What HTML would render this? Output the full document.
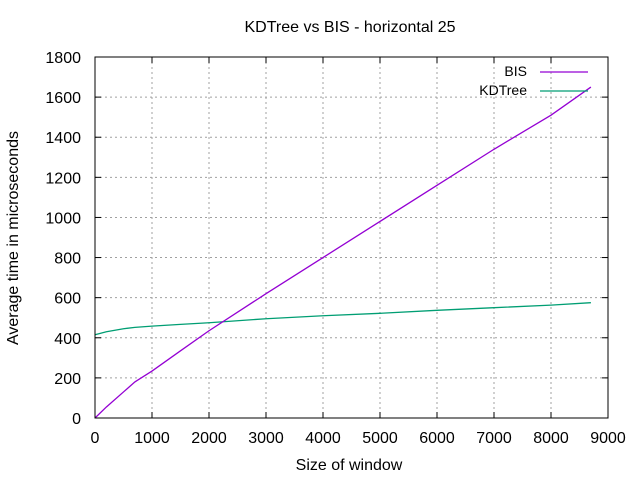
<!DOCTYPE html>
<html><head><meta charset="utf-8"><style>
body{margin:0;background:#fff}
svg{display:block;font-family:"Liberation Sans",sans-serif}
</style></head><body>
<svg id="chart" width="640" height="480">
<text x="350" y="32" font-size="16" text-anchor="middle">KDTree vs BIS - horizontal 25</text>
<g id="grid"></g>
<g id="ticks"></g>
<g id="series"></g>
<rect x="95" y="57" width="513" height="361" fill="none" stroke="#000" stroke-width="1"/>
<text x="349" y="470" font-size="16" text-anchor="middle">Size of window</text>
<text transform="translate(18,238) rotate(-90)" font-size="16" text-anchor="middle">Average time in microseconds</text>
<g>
<text x="527" y="76" font-size="14" text-anchor="end">BIS</text>
<line x1="540" y1="72" x2="588" y2="72" stroke="#9400d3" stroke-width="1.3"/>
<text x="527" y="95" font-size="14" text-anchor="end">KDTree</text>
<line x1="540" y1="91" x2="588" y2="91" stroke="#009e73" stroke-width="1.3"/>
</g>
</svg>
<script>
const xTicks=[0,1000,2000,3000,4000,5000,6000,7000,8000,9000];
const yTicks=[0,200,400,600,800,1000,1200,1400,1600,1800];
const windowSizes=[0,200,500,700,1000,1500,2000,3000,4000,5000,6000,7000,8000,8700];
const bisValues=[0,55,130,180,234,335,435,620,800,980,1160,1340,1510,1650];
const kdValues=[415,430,445,452,458,467,475,495,510,522,537,550,563,575];
const NS="http://www.w3.org/2000/svg";
const X=v=>95+v/9000*513, Y=v=>418-v/1800*361;
const grid=document.getElementById('grid'), ticks=document.getElementById('ticks'), ser=document.getElementById('series');
function mk(tag,attrs,parent){const e=document.createElementNS(NS,tag);for(const k in attrs)e.setAttribute(k,attrs[k]);parent.appendChild(e);return e;}
xTicks.forEach(t=>{
  const x=X(t);
  if(t>0&&t<9000){const g=mk('line',{x1:x,y1:57,x2:x,y2:418,stroke:'#a0a0a0','stroke-dasharray':'2,3'},grid);
  
  }
  const a=mk('line',{x1:x,y1:418,x2:x,y2:412,stroke:'#000'},ticks);
  
  
  const b=mk('line',{x1:x,y1:57,x2:x,y2:63,stroke:'#000'},ticks);
  
  
  const l=mk('text',{x:x,y:443,'font-size':16,'text-anchor':'middle'},ticks);l.textContent=t;
  
  
});
yTicks.forEach(t=>{
  const y=Y(t);
  if(t>0&&t<1800){const g=mk('line',{x1:95,y1:y,x2:608,y2:y,stroke:'#a0a0a0','stroke-dasharray':'2,3'},grid);
  
  }
  const a=mk('line',{x1:95,y1:y,x2:101,y2:y,stroke:'#000'},ticks);
  
  
  const b=mk('line',{x1:602,y1:y,x2:608,y2:y,stroke:'#000'},ticks);
  
  
  const l=mk('text',{x:81,y:y+6,'font-size':16,'text-anchor':'end'},ticks);l.textContent=t;
  
  
});
const kd=mk('polyline',{points:windowSizes.map((v,i)=>X(v)+','+Y(kdValues[i])).join(' '),fill:'none',stroke:'#009e73','stroke-width':1.3},ser);


const bis=mk('polyline',{points:windowSizes.map((v,i)=>X(v)+','+Y(bisValues[i])).join(' '),fill:'none',stroke:'#9400d3','stroke-width':1.3},ser);


</script>
</body></html>
